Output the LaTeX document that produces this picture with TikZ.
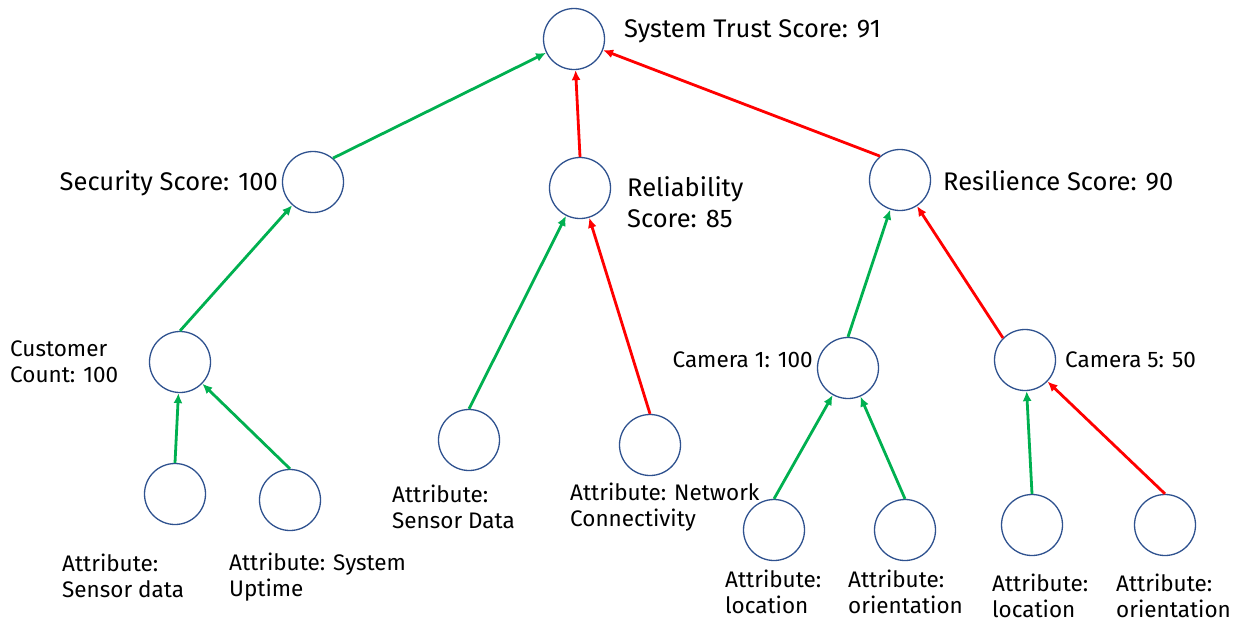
\documentclass[tikz,border=0pt]{standalone}
\usepackage{fontspec}
\setmainfont{Fira Sans}
\usetikzlibrary{arrows.meta}
\definecolor{cblue}{HTML}{2F528F}
\definecolor{cgreen}{HTML}{00B050}
\definecolor{cred}{HTML}{FF0000}
\begin{document}
\begin{tikzpicture}[x=1pt,y=-1pt,
  vert/.style={circle,draw=cblue,line width=1.3pt,minimum size=61pt,inner sep=0pt},
  big/.style={inner sep=0pt,align=left,font=\fontsize{25.5}{31}\selectfont},
  small/.style={inner sep=0pt,align=left,font=\fontsize{22.5}{26}\selectfont},
  good/.style={draw=cgreen,line width=2.8pt,-{Latex[length=10pt,width=9pt]}},
  bad/.style={draw=cred,line width=2.8pt,-{Latex[length=10pt,width=9pt]}}]
\useasboundingbox (0,0) rectangle (1239,622);
% vertices
\node[vert] (top) at (574,39) {};
\node[vert] (sec) at (313,182) {};
\node[vert] (rel) at (580,188) {};
\node[vert] (res) at (900,180) {};
\node[vert] (cust) at (180,362) {};
\node[vert] (cam1) at (848,368) {};
\node[vert] (cam5) at (1025,360) {};
\node[vert] (l1) at (175,494) {};
\node[vert] (l2) at (290,500) {};
\node[vert] (l3) at (469,440) {};
\node[vert] (l4) at (650,445) {};
\node[vert] (l5) at (774,530) {};
\node[vert] (l6) at (905,530) {};
\node[vert] (l7) at (1032,525) {};
\node[vert] (l8) at (1165,525) {};
% labels
\node[big,anchor=west] (ttop) at (624,31) {System Trust Score: 91};
\node[big,anchor=east] (tsec) at (278,183) {Security Score: 100};
\node[big,anchor=west] (trel) at (627,202) {Reliability\\Score: 85};
\node[big,anchor=west] (tres) at (943,181) {Resilience Score: 90};
\node[small,anchor=west] (tcust) at (10,362) {Customer\\Count: 100};
\node[small,anchor=east] (tcam1) at (813,360) {Camera 1: 100};
\node[small,anchor=west] (tcam5) at (1065,360) {Camera 5: 50};
\node[small,anchor=west] (tl1) at (62,576) {Attribute:\\Sensor data};
\node[small,anchor=west] (tl2) at (229,577) {Attribute: System\\Uptime};
\node[small,anchor=west] (tl3) at (392,507) {Attribute:\\Sensor Data};
\node[small,anchor=west] (tl4) at (570,507) {Attribute: Network\\Connectivity};
\node[small,anchor=west] (tl5) at (725,592) {Attribute:\\location};
\node[small,anchor=west] (tl6) at (848,592) {Attribute:\\orientation};
\node[small,anchor=west] (tl7) at (992,596) {Attribute:\\location};
\node[small,anchor=west] (tl8) at (1116,596) {Attribute:\\orientation};
% connectors
\draw[good] (sec.50) -- (top);
\draw[bad] (rel.north) -- (top);
\draw[bad] (res.130) -- (top);
\draw[good] (cust.north) -- (sec);
\draw[good] (l3.north) -- (rel);
\draw[bad] (l4.north) -- (rel);
\draw[good] (cam1.north) -- (res);
\draw[bad] (cam5.135) -- (res);
\draw[good] (l1.north) -- (cust);
\draw[good] (l2.north) -- (cust);
\draw[good] (l5.north) -- (cam1);
\draw[good] (l6.north) -- (cam1);
\draw[good] (l7.north) -- (cam5);
\draw[bad] (l8.north) -- (cam5);
\end{tikzpicture}
\end{document}
